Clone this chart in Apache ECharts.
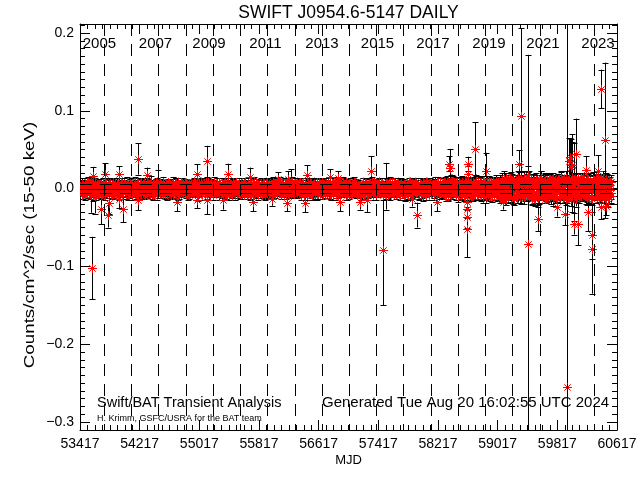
<!DOCTYPE html>
<html><head><meta charset="utf-8">
<script src="https://cdn.jsdelivr.net/npm/echarts@6/dist/echarts.min.js"></script>
<style>html,body{margin:0;padding:0;background:#fff}#c{width:640px;height:480px}</style>
</head><body><div id="c"></div>
<script>
// ---------- data ----------
const titleText = 'SWIFT J0954.6-5147 DAILY';
const xTickLabels = [53417,54217,55017,55817,56617,57417,58217,59017,59817,60617];
const yTickLabels = [-0.3,-0.2,-0.1,0.0,0.1,0.2];
const yearLineMjd = [53736,54101,54466,54832,55197,55562,55927,56293,56658,57023,57388,57754,58119,58484,58849,59215,59580,59945,60310];
const yearLabels = ['2005','2007','2009','2011','2013','2015','2017','2019','2021','2023'];
const yearLabelMjd = [53678,54429,55147,55904,56662,57406,58150,58901,59625,60362];
const meanRate = 0.0;
const sigmaLines = [0.006,-0.0055];

// dense daily band: three interleaved samplings every 15 days (offsets 0, 5, 10 days from MJD 53420)
// rates & errors in units of 0.001 counts/cm^2/sec
const bandStart = 53420, bandStep = 15, bandOffsets = [0, 5, 10];
const bandRateA = [
 3,-5,6,1,-7,4,-2,8,-4,0,5,-8,2,7,-3,-6,4,1,-1,6,-5,3,-8,7,2,
 -4,5,0,-7,8,-2,3,-6,6,-1,-8,4,2,-5,7,-3,1,5,-7,0,6,-4,3,-2,8,
 -6,2,7,-3,-5,4,0,6,-8,3,-1,5,-4,8,-7,1,4,-2,6,-6,0,7,-3,2,-5,
 5,-7,1,6,-4,3,-8,2,7,-1,-5,4,8,-6,0,3,-3,6,-2,5,-7,1,7,-4,2,
 -3,6,-6,2,4,-8,7,0,-2,5,-5,3,8,-7,1,-4,6,-1,3,-6,8,-3,0,5,-7,
 4,-2,7,-5,1,6,-8,3,-1,5,-6,2,8,-4,0,-7,4,6,-3,2,-5,7,-1,3,-8,
 6,-4,2,-7,5,0,-3,8,-6,1,4,-2,7,-5,3,-8,6,-1,2,-4,5,-7,8,0,-3,
 -5,3,7,-2,-6,4,1,-8,6,-3,5,0,-7,2,8,-4,3,-1,6,-6,1,7,-5,4,-2,
 2,-6,5,-1,7,-4,3,-8,0,6,-3,4,-7,8,-2,1,-5,6,-4,3,7,-6,0,5,-8,
 -1,7,-4,3,-7,5,-2,6,-5,1,8,-3,2,-6,4,-8,7,0,-4,6,-2,3,-7,5,1,
 4,-8,1,6,-3,7,-5,2,-1,5,-6,8,-2,3,-7,0,6,-4,4,-5,7,-1,2,-8,6,
 -3,5,-6,0,8,-4,3,-7,6,-2,1,-5,7,-3,4,-8,2,5,-6,1,8,-4,-1,6,-5,
 7,-2,4,-6,1,5,-8,3,-4,8,-1,2,-7,6,-3,4,-5,7,0,-6,3,-2,8,-4,1,
 -6,9,-2,4,-9,7,0,-5,10,-3,6,-8,2,-4,9,-7,5,1,-10,3,8,-6,4,-1,7,
 -9,5,2,-7,10,-3,6,-1,-8,4,9,-5,1,-10,7,3,-6,8,-2,5,-9,0,10,-4,6,
 -11,8,3,-13,12,-5,7,-2,-9,13,-7,4,10,-12,1,6,-4,11,-10,9,-1,-6,13,-8,5,
 12,-9,-3,7,-13,10,2,-6,11,-11,5,-2,13,-8,4,9,-12,0,8,-5,12,-10,3,-7,10,
 -12,6,11,-4,-9,13,-6,2,9,-13,7,-1,12,-10,4,8,-7,11,-3,-11,13,-5,6,-9,2,
 10,-8,4,-12,12,-3,7,-11,1,9,-6,13,-9,5,-13,11,-2,8,-10,6,12,-7,3,-11,9
];
const bandErrA = [
 6,5,7,4,8,5,6,7,4,5,6,8,5,7,4,6,5,7,8,4,6,5,7,6,5,
 5,7,4,6,5,8,6,4,7,5,6,5,8,4,7,6,5,4,7,6,8,5,4,6,7,
 7,4,6,5,8,4,6,7,5,6,4,7,5,8,6,4,7,5,6,8,5,4,7,6,5,
 4,6,8,5,7,4,5,6,8,4,7,5,6,4,8,6,5,7,4,6,5,8,4,7,6,
 6,5,4,7,6,8,5,4,6,7,5,8,4,6,5,7,6,4,8,5,7,6,5,4,8,
 5,8,6,4,7,5,6,8,4,6,5,7,4,8,6,5,4,7,6,5,8,4,6,7,5,
 7,5,4,6,8,5,7,4,6,5,8,6,4,7,5,6,8,5,4,7,6,5,7,4,6,
 4,7,6,5,4,8,6,5,7,4,6,8,5,4,7,6,5,8,4,6,7,5,6,4,8,
 6,4,8,7,5,6,4,7,5,8,6,4,7,5,6,4,8,6,5,7,4,6,8,5,7,
 8,6,5,4,7,6,8,5,4,6,7,5,4,8,6,5,7,4,6,8,5,7,4,6,5,
 5,7,6,8,4,5,7,6,8,5,4,7,6,5,8,4,6,7,5,4,6,8,7,5,6,
 7,5,8,6,5,7,4,6,5,7,8,4,6,7,5,8,6,4,7,5,6,5,8,7,4,
 6,8,5,7,6,4,8,5,7,6,5,8,7,4,6,5,7,8,6,5,4,7,6,8,5,
 7,6,8,5,7,6,5,8,6,7,5,6,8,7,5,6,7,8,5,6,7,5,8,6,7,
 6,7,5,8,6,5,7,6,8,5,7,6,5,8,7,6,5,7,6,8,5,6,7,5,8,
 8,7,9,6,10,7,8,9,6,7,10,8,7,9,6,8,7,10,9,6,8,7,9,8,7,
 9,6,8,10,7,9,6,8,7,10,8,6,9,7,8,10,7,9,6,8,7,10,6,9,8,
 7,10,8,6,9,8,7,10,6,8,9,7,10,6,8,9,7,8,10,6,7,9,8,6,10,
 10,8,6,9,7,6,10,8,7,9,6,8,9,7,10,6,8,7,9,10,8,6,7,9,8
];
const bandRateB = [
 -2,6,-7,3,5,-4,8,-1,-6,2,7,-5,0,4,-8,6,-3,1,5,-7,3,-2,8,-5,0,
 6,-3,-8,5,1,-6,7,-2,4,-7,0,8,-4,3,-1,6,-5,2,-8,7,-3,5,1,-6,4,
 -7,4,1,-5,8,-2,6,-4,3,-8,5,0,-6,7,-1,2,-7,8,-3,4,-5,1,6,-2,-8,
 3,0,-6,8,-3,5,-7,1,4,-5,7,-2,-8,6,2,-4,5,-1,8,-6,3,-7,0,5,-3,
 -5,8,-1,-4,6,-7,2,5,-3,0,7,-6,4,-2,8,-5,1,3,-8,6,-4,2,7,-1,-6,
 1,-6,4,7,-5,3,-2,6,-8,4,0,-3,5,-7,8,-1,-6,2,7,-4,1,-8,5,3,-2,
 -3,5,-8,2,6,-1,-5,4,7,-7,3,-4,0,8,-6,2,-2,5,-7,1,6,-3,-5,7,0,
 7,-1,-4,6,-8,3,5,-6,2,-2,8,-5,1,-7,4,0,-3,7,-6,5,-1,3,-8,2,6,
 -8,4,2,-5,3,7,-7,1,-4,6,-2,8,-6,0,5,-3,7,-8,2,-1,4,-5,6,-7,3,
 5,-3,8,-6,0,-2,6,-7,4,3,-5,1,7,-8,2,-4,5,-1,-6,8,-3,6,0,-7,4,
 -6,2,5,-8,7,-1,-4,3,6,-5,0,-7,8,-2,4,-6,1,7,-3,5,-8,2,-1,6,-4,
 2,-7,6,-3,-5,8,-1,4,-6,7,0,-4,3,5,-8,6,-2,-5,1,7,-3,4,-7,0,8,
 -4,6,-1,7,-7,2,5,-3,0,-6,8,-2,4,-5,1,6,-8,3,-1,5,-4,7,-6,2,-2,
 8,-4,-9,6,2,-7,10,-1,-5,9,-3,4,-10,7,0,-6,8,-2,5,-8,1,9,-4,-7,3,
 4,-10,7,1,-6,9,-3,5,-8,2,10,-5,-1,8,-7,3,-9,6,0,-4,7,-2,-8,9,-5,
 9,-12,5,1,-7,13,-3,-10,8,-5,11,2,-13,6,-1,10,-8,4,-11,12,-4,7,-9,0,11,
 -8,13,-5,9,-1,-12,6,11,-7,3,-10,12,-3,-6,10,-13,5,2,-9,11,-2,-7,13,-4,6,
 7,-11,1,12,-6,-3,10,-9,5,13,-12,4,-2,9,-8,11,-5,1,-13,6,10,-4,-9,12,-1,
 -7,5,-10,13,-2,8,-12,3,11,-9,6,-4,12,-11,2,7,-8,13,-5,-1,10,-13,4,9,-6
];
const bandErrB = [
 5,4,6,7,5,4,6,5,7,4,6,5,4,7,6,5,4,6,7,5,4,6,5,7,4,
 6,5,4,7,5,6,4,7,5,6,4,5,7,6,4,5,6,7,4,5,6,4,7,5,6,
 4,7,5,6,4,5,7,6,5,4,6,7,5,4,6,5,7,4,6,5,4,7,6,5,4,
 7,5,6,4,6,7,5,4,6,5,7,4,6,5,4,7,5,6,4,6,5,7,4,6,5,
 5,6,4,7,5,4,6,7,4,5,6,4,7,5,6,4,5,7,6,4,5,6,7,4,5,
 4,6,7,5,4,6,5,4,7,6,5,4,6,7,5,4,6,5,4,7,6,5,4,6,7,
 6,4,5,7,6,5,4,6,5,7,4,6,5,4,7,5,6,4,6,5,7,4,5,6,4,
 5,7,4,6,5,4,7,5,6,4,5,7,6,4,5,6,4,7,5,6,4,5,6,7,5,
 7,4,6,5,4,6,5,7,4,6,5,4,7,6,5,4,6,5,7,4,6,5,4,6,7,
 4,5,7,6,4,5,6,4,7,5,6,4,5,7,6,4,5,6,4,7,5,6,7,4,5,
 6,7,4,5,6,4,7,5,4,6,5,7,4,6,5,4,6,7,5,4,6,5,4,7,6,
 5,4,6,7,4,5,6,4,5,7,6,4,5,6,7,4,5,4,6,7,5,6,4,5,6,
 7,5,4,6,5,7,4,6,5,4,6,7,5,4,6,5,7,4,6,5,4,6,7,5,4,
 6,5,7,8,5,6,8,7,5,6,8,7,5,8,6,7,8,5,6,7,8,5,6,8,7,
 7,6,8,5,8,7,6,8,7,5,6,8,7,8,6,5,7,8,8,6,7,5,8,6,7,
 8,7,9,6,10,7,8,9,6,7,10,8,6,9,7,8,10,6,7,9,8,7,6,10,8,
 7,9,6,8,10,7,6,9,8,7,10,6,8,9,7,6,8,10,7,9,6,8,7,9,10,
 9,6,8,7,9,10,7,6,8,9,7,10,6,8,7,9,6,8,10,7,9,6,7,8,9,
 6,8,10,7,6,9,8,7,10,6,8,9,7,6,10,8,7,9,6,8,7,10,9,6,7
];
const bandRateC = [
 1,-8,4,-3,6,-6,2,7,-2,-5,3,8,-7,0,5,-4,6,-1,-8,2,7,-3,4,-6,5,
 -2,7,-5,2,-3,6,-8,4,1,-6,5,-1,7,-4,0,-7,8,-2,3,-5,6,-8,2,5,-1,
 8,-3,-4,6,-7,1,5,-2,-6,7,-4,2,6,-1,-8,4,-5,3,7,-3,0,-6,5,8,-4,
 -1,4,-7,2,7,-5,3,-8,0,6,-3,5,-2,-7,8,1,-6,4,-4,7,-2,3,-8,6,0,
 5,-2,7,-6,-1,3,-4,8,-7,2,6,-3,-5,4,0,-8,7,-2,5,1,-6,3,-4,8,-3,
 -6,3,0,-4,8,-7,5,-2,6,1,-8,4,-1,-5,7,3,-2,-7,6,0,4,-3,8,-6,2,
 3,-7,6,-1,-4,8,-6,2,5,-3,0,7,-8,4,1,-5,8,-3,-6,3,-1,6,-2,-8,5,
 -4,2,-6,8,1,-5,3,7,-7,4,-1,-3,6,-8,2,5,-4,0,7,-2,-6,8,-3,1,-5,
 6,-1,-8,3,-5,2,7,-4,0,-7,5,3,-2,6,-6,8,-3,1,-8,4,-4,6,2,-5,7,
 -7,6,1,-4,5,-8,2,3,-6,7,-2,-5,8,0,-3,6,-7,4,1,-4,8,-6,3,-1,-2,
 2,-5,8,-2,-6,4,1,-8,7,-3,5,-1,-4,6,-7,3,8,-5,0,2,-3,5,-6,7,-8,
 -5,8,-3,5,0,-7,6,-4,2,-1,-8,7,-5,3,6,-2,4,-7,8,-3,1,-6,5,-2,3,
 4,-3,-7,1,6,-5,8,-2,-8,5,-4,3,7,-6,0,-3,6,-1,-5,8,-7,2,-3,4,-6,
 -3,6,8,-9,4,-2,-7,10,3,-6,-1,8,-10,5,2,-4,9,-8,6,-3,-7,10,-1,5,-9,
 7,-2,-6,10,-8,5,1,-4,9,-10,3,6,-7,2,-5,8,-3,-9,10,-1,4,-6,7,-3,1,
 -4,11,-9,6,10,-13,2,9,-6,-1,12,-10,5,8,-3,-12,13,-7,3,-5,9,-11,-2,10,-8,
 3,-6,12,-11,5,8,-13,-4,10,-8,1,13,-9,-2,7,11,-6,-10,12,-3,4,9,-12,6,-1,
 -10,4,9,-7,13,-1,-12,11,-4,6,-9,2,10,-13,8,-5,12,-3,-7,9,-11,5,1,-6,13,
 11,-4,-8,6,-11,10,2,-13,7,-3,12,-9,4,1,-10,13,-6,5,-12,3,9,-7,11,-2,-9
];
const bandErrC = [
 6,5,7,4,5,6,4,7,5,6,4,5,7,6,5,4,6,7,5,4,6,5,7,4,6,
 4,6,5,7,6,4,5,6,7,4,5,6,4,7,5,6,7,4,5,6,4,7,5,6,4,
 5,7,4,6,5,7,6,4,5,7,4,6,5,4,7,6,4,5,7,6,5,4,6,7,5,
 6,4,7,5,4,6,7,5,4,6,7,5,4,6,5,7,4,6,5,4,7,6,5,4,6,
 7,6,5,4,7,5,4,6,7,5,4,6,5,7,4,6,5,4,6,7,5,4,6,5,7,
 5,4,6,7,5,6,4,5,7,6,4,7,5,4,6,5,7,6,4,5,7,4,6,5,4,
 4,7,5,6,4,7,5,6,4,5,7,6,4,5,6,7,4,6,5,4,6,7,5,4,6,
 6,5,4,7,6,4,5,7,6,4,5,6,7,4,5,6,4,5,7,6,4,5,6,7,4,
 5,6,7,4,5,6,4,7,5,6,4,7,5,6,4,5,7,6,4,5,6,7,4,5,6,
 7,4,6,5,7,4,6,5,4,7,6,5,4,6,7,5,4,6,5,7,4,6,5,4,7,
 4,6,5,4,7,6,5,4,6,5,7,4,6,5,4,7,6,5,4,6,7,5,4,6,5,
 6,7,4,5,6,4,7,6,5,4,6,5,7,4,6,5,4,7,6,5,4,6,7,5,4,
 5,4,7,6,5,7,4,5,6,7,4,5,6,4,7,5,6,4,5,7,6,4,5,6,7,
 7,6,8,5,7,8,6,8,7,5,8,6,7,8,5,7,6,8,8,6,7,5,8,7,6,
 6,8,7,8,5,6,8,7,6,8,7,5,8,6,7,8,6,8,5,7,6,8,8,7,6,
 7,9,8,6,10,8,7,9,6,8,7,10,9,6,8,7,9,6,10,7,8,9,6,7,8,
 9,7,6,10,8,7,9,6,8,10,7,9,6,7,8,9,10,7,6,8,9,7,10,6,8,
 8,10,7,6,9,8,6,7,10,9,6,8,7,9,6,10,8,7,9,6,7,10,8,9,7,
 7,6,9,8,7,10,6,8,9,7,6,9,8,10,7,6,9,8,7,9,10,6,7,8,9
];

// individual deviating days
const outMjd  = [53574,53570,53620,53595,53752,53694,53797,53810,53944,53944,53990,54198,54198,54311,54463,54713,54990,54980,55115,55115,
                 55338,55406,55696,55741,55987,56076,56188,56210,56240,56433,56457,56769,56880,56903,57171,57261,57315,57476,57520,57864,
                 57940,58208,58365,58378,58602,58610,58610,58610,58620,58623,58713,58861,59093,59303,59330,59428,59428,59554,59809,59920,
                 59943,59970,59987,60000,60010,60020,60035,60045,60063,60098,60200,60232,60278,60278,60362,60403,60403,60456,60470];
const outRate = [-0.102,-0.008,-0.010,0.016,0.019,-0.026,-0.034,-0.019,0.019,-0.013,-0.026,0.038,-0.015,0.017,0.006,-0.017,0.019,-0.015,0.035,-0.015,
                 -0.015,0.019,0.015,-0.017,-0.013,0.012,-0.019,0.012,0.008,-0.019,0.017,0.015,0.013,-0.017,-0.017,-0.015,0.023,-0.079,0.003,-0.013,
                 -0.034,-0.017,0.032,0.026,-0.052,-0.017,-0.026,-0.037,0.032,0.019,0.051,0.023,-0.017,0.032,0.093,0.017,-0.071,-0.039,-0.024,-0.032,
                 -0.255,0.035,0.041,0.028,0.030,0.015,0.008,-0.045,0.045,-0.046,0.024,-0.030,-0.060,-0.077,0.023,0.128,-0.024,0.062,-0.022];
const outErr  = [0.040,0.023,0.022,0.012,0.014,0.020,0.016,0.014,0.010,0.012,0.017,0.020,0.013,0.010,0.018,0.012,0.012,0.010,0.020,0.018,
                 0.012,0.013,0.012,0.012,0.009,0.009,0.010,0.010,0.017,0.011,0.013,0.010,0.009,0.012,0.010,0.015,0.019,0.071,0.030,0.010,
                 0.016,0.012,0.010,0.025,0.036,0.010,0.012,0.014,0.009,0.010,0.034,0.023,0.010,0.017,0.113,0.012,0.243,0.016,0.012,0.015,
                 0.470,0.030,0.024,0.036,0.040,0.045,0.050,0.014,0.045,0.027,0.018,0.025,0.030,0.058,0.020,0.025,0.015,0.100,0.012];

// ---------- layout / style ----------
const X_MIN = 53417, X_MAX = 60617, Y_MIN = -0.3103, Y_MAX = 0.2116;
const FONT = '"Liberation Sans", Arial, sans-serif';

const points = [];
const bandRates = [bandRateA, bandRateB, bandRateC], bandErrs = [bandErrA, bandErrB, bandErrC];
for (let i = 0; i < bandRateA.length; i++) {
  for (let k = 0; k < 3; k++) points.push([bandStart + bandStep * i + bandOffsets[k], bandRates[k][i] / 1000, bandErrs[k][i] / 1000]);
}
for (let i = 0; i < outMjd.length; i++) points.push([outMjd[i], outRate[i], outErr[i]]);

const xMinor = []; for (let v = X_MIN; v <= X_MAX; v += 100) xMinor.push(v);
const yMinor = []; for (let k = -31; k <= 21; k++) yMinor.push(k / 100);

const refLines = [];
yearLineMjd.forEach(m => refLines.push([m, Y_MAX, m, Y_MIN, 1]));
refLines.push([X_MIN, meanRate, X_MAX, meanRate, 0]);
sigmaLines.forEach(s => refLines.push([X_MIN, meanRate + s, X_MAX, meanRate + s, 1]));

const yearData = yearLabels.map((t, i) => [yearLabelMjd[i], 0.1859, t]);

function fmtY(v) { const s = Math.abs(v) < 1e-9 ? '0.0' : v.toFixed(1); return s.replace('-', '\u2212'); }

function baseX(pos, ticks, len, showLine, labels) {
  return {
    type: 'value', min: X_MIN, max: X_MAX, position: pos, gridIndex: 0,
    axisLine: { show: showLine, onZero: false, lineStyle: { color: '#000', width: 1 } },
    axisTick: { show: true, inside: true, length: len, customValues: ticks, lineStyle: { color: '#000', width: 1 } },
    axisLabel: labels ? { show: true, customValues: ticks, color: '#000', fontSize: 14, fontFamily: FONT, margin: 7, formatter: v => String(v) } : { show: false },
    splitLine: { show: false }, minorTick: { show: false }
  };
}
function baseY(pos, ticks, len, showLine, labels) {
  return {
    type: 'value', min: Y_MIN, max: Y_MAX, position: pos, gridIndex: 0,
    axisLine: { show: showLine, onZero: false, lineStyle: { color: '#000', width: 1 } },
    axisTick: { show: true, inside: true, length: len, customValues: ticks, lineStyle: { color: '#000', width: 1 } },
    axisLabel: labels ? { show: true, customValues: ticks, color: '#000', fontSize: 14, fontFamily: FONT, margin: 6, formatter: fmtY } : { show: false },
    splitLine: { show: false }, minorTick: { show: false }
  };
}

const chart = echarts.init(document.getElementById('c'), null, { renderer: 'canvas' });
chart.setOption({
  animation: false,
  backgroundColor: '#fff',
  grid: { left: 80, right: 23, top: 24, bottom: 50, containLabel: false, outerBoundsMode: 'none' },
  xAxis: [
    baseX('bottom', xTickLabels, 10, true, true),
    baseX('top', xTickLabels, 10, true, false),
    baseX('bottom', xMinor, 5, false, false),
    baseX('top', xMinor, 5, false, false)
  ],
  yAxis: [
    baseY('left', yTickLabels, 10, true, true),
    baseY('right', yTickLabels, 10, true, false),
    baseY('left', yMinor, 5, false, false),
    baseY('right', yMinor, 5, false, false)
  ],
  graphic: [
    { type: 'text', x: 348.5, y: 13, z: 10, style: { text: titleText, fontSize: 17.5, fontFamily: FONT, fill: '#000', align: 'center', verticalAlign: 'middle', textAlign: 'center', textVerticalAlign: 'middle' } },
    { type: 'text', x: 348.5, y: 460, z: 10, style: { text: 'MJD', fontSize: 13, fontFamily: FONT, fill: '#000', align: 'center', verticalAlign: 'middle', textAlign: 'center', textVerticalAlign: 'middle' } },
    { type: 'text', x: 30, y: 245, rotation: Math.PI / 2, scaleX: 1.25, z: 10, style: { text: 'Counts/cm^2/sec (15-50 keV)', fontSize: 15, fontFamily: FONT, fill: '#000', align: 'center', verticalAlign: 'middle', textAlign: 'center', textVerticalAlign: 'middle' } },
    { type: 'text', x: 97, y: 403, z: 10, style: { text: 'Swift/BAT Transient Analysis', fontSize: 14.5, fontFamily: FONT, fill: '#000', align: 'left', verticalAlign: 'middle', textAlign: 'left', textVerticalAlign: 'middle' } },
    { type: 'text', x: 322, y: 403, z: 10, style: { text: 'Generated Tue Aug 20 16:02:55 UTC 2024', fontSize: 15, fontFamily: FONT, fill: '#000', align: 'left', verticalAlign: 'middle', textAlign: 'left', textVerticalAlign: 'middle' } },
    { type: 'text', x: 97, y: 418.5, z: 10, style: { text: 'H. Krimm, GSFC/USRA for the BAT team', fontSize: 9, fontFamily: FONT, fill: '#000', align: 'left', verticalAlign: 'middle', textAlign: 'left', textVerticalAlign: 'middle' } }
  ],
  series: [
    {
      name: 'errors', type: 'custom', xAxisIndex: 0, yAxisIndex: 0, z: 2, clip: true, silent: true,
      data: points, encode: { x: 0, y: 1 },
      renderItem: function (params, api) {
        const x = api.value(0), v = api.value(1), e = api.value(2);
        const hi = Math.min(v + e, Y_MAX), lo = Math.max(v - e, Y_MIN);
        const p1 = api.coord([x, hi]), p2 = api.coord([x, lo]);
        const px = Math.round(p1[0]) + 0.5;
        let d = 'M' + px + ' ' + p1[1] + 'L' + px + ' ' + p2[1];
        if (v + e <= Y_MAX) { const y = Math.round(p1[1]) + 0.5; d += 'M' + (px - 3) + ' ' + y + 'L' + (px + 3) + ' ' + y; }
        if (v - e >= Y_MIN) { const y = Math.round(p2[1]) + 0.5; d += 'M' + (px - 3) + ' ' + y + 'L' + (px + 3) + ' ' + y; }
        return { type: 'path', shape: { pathData: d }, style: { stroke: '#000', fill: null, lineWidth: 1 } };
      }
    },
    {
      name: 'rate', type: 'custom', xAxisIndex: 0, yAxisIndex: 0, z: 3, clip: true, silent: true,
      data: points, encode: { x: 0, y: 1 },
      renderItem: function (params, api) {
        const p = api.coord([api.value(0), api.value(1)]);
        const cx = Math.round(p[0]) + 0.5, cy = Math.round(p[1]) + 0.5, a = 4.5, b = 3.2;
        const d = 'M' + (cx - a) + ' ' + cy + 'L' + (cx + a) + ' ' + cy +
                  'M' + cx + ' ' + (cy - a) + 'L' + cx + ' ' + (cy + a) +
                  'M' + (cx - b) + ' ' + (cy - b) + 'L' + (cx + b) + ' ' + (cy + b) +
                  'M' + (cx - b) + ' ' + (cy + b) + 'L' + (cx + b) + ' ' + (cy - b);
        return { type: 'path', shape: { pathData: d }, style: { stroke: '#ff0000', fill: null, lineWidth: 1 } };
      }
    },
    {
      name: 'ref', type: 'custom', xAxisIndex: 0, yAxisIndex: 0, z: 4, clip: true, silent: true,
      data: refLines, encode: { x: [0, 2], y: [1, 3] },
      renderItem: function (params, api) {
        const a = api.coord([api.value(0), api.value(1)]), b = api.coord([api.value(2), api.value(3)]);
        const vertical = api.value(0) === api.value(2);
        let x1 = a[0], x2 = b[0], y1 = a[1], y2 = b[1];
        if (vertical) { x1 = x2 = Math.round(a[0]) + 0.5; } else { y1 = y2 = Math.round(a[1]) + 0.5; }
        return { type: 'line', shape: { x1: x1, y1: y1, x2: x2, y2: y2 },
                 style: { stroke: '#000', lineWidth: 1, lineDash: api.value(4) ? [12, 8] : null } };
      }
    },
    {
      name: 'years', type: 'custom', xAxisIndex: 0, yAxisIndex: 0, z: 5, silent: true,
      data: yearData, encode: { x: 0, y: 1 },
      renderItem: function (params, api) {
        const p = api.coord([api.value(0), api.value(1)]);
        return { type: 'text', x: p[0], y: p[1], style: { text: yearData[params.dataIndex][2], fontSize: 15, fontFamily: FONT, fill: '#000', align: 'center', verticalAlign: 'middle', textAlign: 'center', textVerticalAlign: 'middle' } };
      }
    }
  ]
});
</script></body></html>
